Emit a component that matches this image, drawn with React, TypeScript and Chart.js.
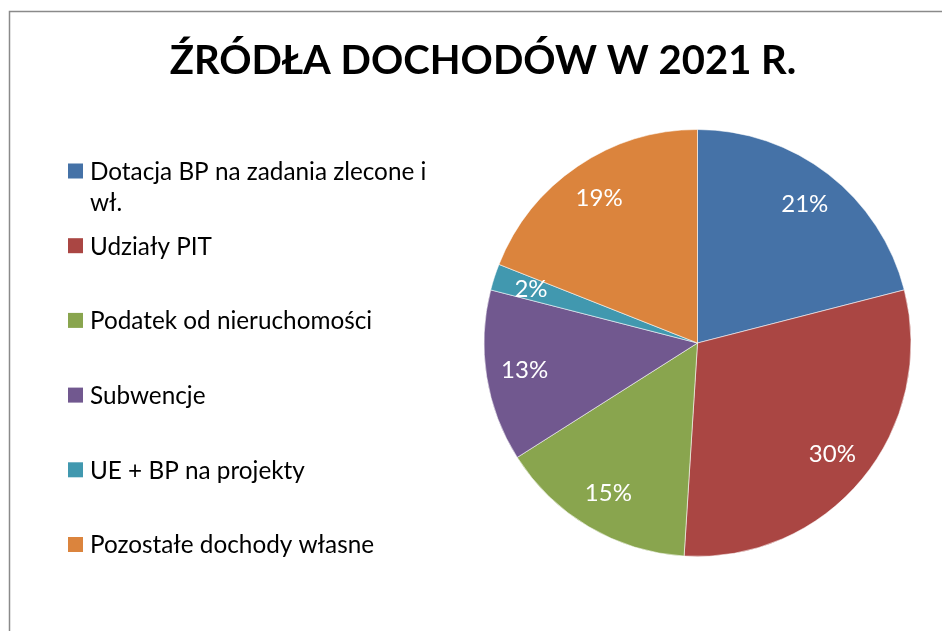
import React, { useEffect, useRef } from "react";
import { Chart, registerables } from "chart.js";

Chart.register(...registerables);

const TITLE = "ŹRÓDŁA DOCHODÓW W 2021 R.";
const categories = [
  "Dotacja BP na zadania zlecone i wł.",
  "Udziały PIT",
  "Podatek od nieruchomości",
  "Subwencje",
  "UE + BP na projekty",
  "Pozostałe dochody własne",
];
const legendLines = [
  ["Dotacja BP na zadania zlecone i", "wł."],
  ["Udziały PIT"],
  ["Podatek od nieruchomości"],
  ["Subwencje"],
  ["UE + BP na projekty"],
  ["Pozostałe dochody własne"],
];
const shares = [21, 30, 15, 13, 2, 19];
const colors = ["#4572A7", "#AA4643", "#89A54E", "#71588F", "#4198AF", "#DB843D"];

const FONT = "Lato, 'Open Sans', sans-serif";

const decorPlugin = {
  id: "decor",
  afterDraw(chart: any) {
    const ctx = chart.ctx;
    ctx.save();
    // frame
    ctx.strokeStyle = "#8a8a8a";
    ctx.lineWidth = 1.5;
    ctx.beginPath();
    ctx.moveTo(9.5, 640);
    ctx.lineTo(9.5, 11.5);
    ctx.lineTo(950, 11.5);
    ctx.stroke();
    // title
    ctx.fillStyle = "#000";
    ctx.font = "bold 40px " + FONT;
    ctx.textAlign = "center";
    ctx.textBaseline = "alphabetic";
    ctx.fillText(TITLE, 483, 74);
    // legend
    ctx.textAlign = "left";
    ctx.textBaseline = "middle";
    ctx.font = "24.3px " + FONT;
    const ds = chart.data.datasets[0];
    legendLines.forEach((lines, i) => {
      const y = 171 + i * 74.7;
      ctx.fillStyle = ds.backgroundColor[i];
      ctx.fillRect(68, y - 7.5, 15, 15);
      ctx.fillStyle = "#000";
      lines.forEach((t, j) => ctx.fillText(t, 90, y + 1 + j * 31));
    });
    // data labels
    const meta = chart.getDatasetMeta(0);
    const total = ds.data.reduce((a: number, b: number) => a + b, 0);
    ctx.fillStyle = "#fff";
    ctx.textAlign = "center";
    ctx.font = "24px " + FONT;
    meta.data.forEach((arc: any, i: number) => {
      const p = arc.getProps(["x", "y", "startAngle", "endAngle", "outerRadius"], true);
      const mid = (p.startAngle + p.endAngle) / 2;
      const r = p.outerRadius * 0.82;
      const pct = Math.round((ds.data[i] / total) * 100) + "%";
      ctx.fillText(pct, p.x + Math.cos(mid) * r, p.y + Math.sin(mid) * r);
    });
    ctx.restore();
  },
};

export default function App() {
  const ref = useRef<HTMLCanvasElement>(null);
  useEffect(() => {
    if (!ref.current) return;
    const chart = new Chart(ref.current, {
      type: "pie",
      data: {
        labels: categories,
        datasets: [
          {
            data: shares,
            backgroundColor: colors,
            borderColor: "rgba(255,255,255,0.55)",
            borderWidth: 1,
          },
        ],
      },
      options: {
        animation: false,
        responsive: false,
        layout: { padding: { left: 483, right: 30, top: 129, bottom: 74 } },
        plugins: { legend: { display: false }, title: { display: false }, tooltip: { enabled: false } },
      },
      plugins: [decorPlugin],
    });
    return () => chart.destroy();
  }, []);
  return (
    <div style={{ position: "fixed", left: 0, top: 0, width: 942, height: 631, background: "#fff" }}>
      <canvas ref={ref} width={942} height={631} style={{ display: "block" }} />
    </div>
  );
}
